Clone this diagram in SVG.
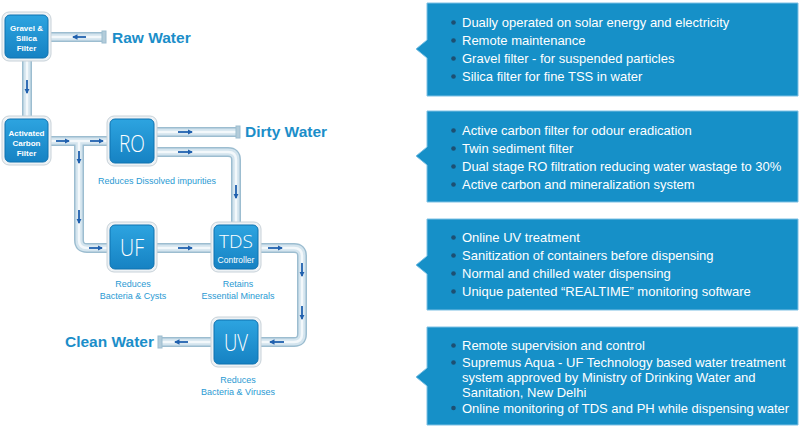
<svg xmlns="http://www.w3.org/2000/svg" width="800" height="447" viewBox="0 0 800 447">
<defs>
<style>
.pipeO{fill:none;stroke:#9cbdd0;stroke-width:10;stroke-linejoin:round}
.pipeM{fill:none;stroke:#d3e4ee;stroke-width:7;stroke-linejoin:round}
.pipeH{fill:none;stroke:#f3f8fb;stroke-width:2.5;stroke-linejoin:round}
.arr{fill:none;stroke:#2060ae;stroke-width:1.8;marker-end:url(#ah)}
.frame{fill:#eef2f5;stroke:#c8d2d9;stroke-width:1}
.box{fill:url(#bg);stroke:#0f72b0;stroke-width:1}
.bt{font-family:"Liberation Sans",Arial,sans-serif;font-weight:bold;font-size:8px;fill:#fff;text-anchor:middle}
.big{font-family:"Open Sans","Liberation Sans",sans-serif;font-weight:300;font-size:24px;fill:#fff;text-anchor:middle}
.lbl{font-family:"Liberation Sans",Arial,sans-serif;font-size:9px;fill:#2a9ad3;text-anchor:middle}
.ttl{font-family:"Liberation Sans",Arial,sans-serif;font-weight:bold;font-size:15.5px;fill:#1b8ec9}
.panel{fill:#1690c8;stroke:#7cc0e4;stroke-width:1}
.pt{font-family:"Liberation Sans",Arial,sans-serif;font-size:13px;fill:#fff}
.dot{fill:#1d4f72}
.cap{fill:#b3ccda;stroke:#9cbdd0;stroke-width:1}
</style>
<linearGradient id="bg" x1="0" y1="0" x2="0" y2="1">
<stop offset="0" stop-color="#2da4e0"/>
<stop offset="1" stop-color="#1682c3"/>
</linearGradient>
<marker id="ah" viewBox="0 0 6 6" refX="5" refY="3" markerWidth="3" markerHeight="3" orient="auto">
<path d="M0,0 L6,3 L0,6 z" fill="#2060ae"/>
</marker>
<path id="p1" d="M105,37 H50"/>
<path id="p2" d="M27,60 V117"/>
<path id="p3" d="M50,141 H107"/>
<path id="p4" d="M79,141 V240 Q79,248 87,248 H107"/>
<path id="p5" d="M157,248 H212"/>
<path id="p6" d="M157,132 H238"/>
<path id="p7" d="M157,152 H228 Q236,152 236,160 V223"/>
<path id="p8" d="M261,248 H294 Q302,248 302,256 V334 Q302,342 294,342 H261"/>
<path id="p9" d="M212,342 H160"/>
</defs>
<rect width="800" height="447" fill="#fff"/>

<g id="connectors">
<use href="#p1" class="pipeO"/><use href="#p2" class="pipeO"/><use href="#p3" class="pipeO"/><use href="#p4" class="pipeO"/><use href="#p5" class="pipeO"/><use href="#p6" class="pipeO"/><use href="#p7" class="pipeO"/><use href="#p8" class="pipeO"/><use href="#p9" class="pipeO"/>
<use href="#p1" class="pipeM"/><use href="#p2" class="pipeM"/><use href="#p3" class="pipeM"/><use href="#p4" class="pipeM"/><use href="#p5" class="pipeM"/><use href="#p6" class="pipeM"/><use href="#p7" class="pipeM"/><use href="#p8" class="pipeM"/><use href="#p9" class="pipeM"/>
<use href="#p1" class="pipeH"/><use href="#p2" class="pipeH"/><use href="#p3" class="pipeH"/><use href="#p4" class="pipeH"/><use href="#p5" class="pipeH"/><use href="#p6" class="pipeH"/><use href="#p7" class="pipeH"/><use href="#p8" class="pipeH"/><use href="#p9" class="pipeH"/>
<rect class="cap" x="102" y="31" width="4" height="12"/>
<rect class="cap" x="236" y="126" width="4" height="12"/>
<rect class="cap" x="158" y="336" width="4" height="12"/>
<path class="arr" d="M86,37 H73"/>
<path class="arr" d="M27,80 V93"/>
<path class="arr" d="M56,141 H69"/>
<path class="arr" d="M90,141 H103"/>
<path class="arr" d="M79,151 V163"/>
<path class="arr" d="M79,210 V223"/>
<path class="arr" d="M89,248 H102"/>
<path class="arr" d="M178,132 H192"/>
<path class="arr" d="M178,152 H192"/>
<path class="arr" d="M236,185 V198"/>
<path class="arr" d="M178,248 H192"/>
<path class="arr" d="M268,248 H282"/>
<path class="arr" d="M302,263 V276"/>
<path class="arr" d="M302,306 V319"/>
<path class="arr" d="M284,342 H270"/>
<path class="arr" d="M188,342 H175"/>
</g>

<g id="gravel">
<rect class="frame" x="2" y="12" width="49" height="49" rx="7"/>
<rect class="box" x="5" y="15" width="43" height="43" rx="5"/>
<text class="bt" x="26.5" y="31">Gravel &amp;</text>
<text class="bt" x="26.5" y="41">Silica</text>
<text class="bt" x="26.5" y="51">Filter</text>
</g>

<g id="carbon">
<rect class="frame" x="2" y="116" width="49" height="49" rx="7"/>
<rect class="box" x="5" y="119" width="43" height="43" rx="5"/>
<text class="bt" x="26.5" y="136">Activated</text>
<text class="bt" x="26.5" y="146">Carbon</text>
<text class="bt" x="26.5" y="156">Filter</text>
</g>

<g id="ro">
<rect class="frame" x="107" y="116" width="50" height="50" rx="7"/>
<rect class="box" x="110" y="119" width="44" height="44" rx="5"/>
<text class="big" x="132" y="152" textLength="26" lengthAdjust="spacingAndGlyphs">RO</text>
<text class="lbl" x="157" y="184">Reduces Dissolved impurities</text>
</g>

<g id="uf">
<rect class="frame" x="107" y="222" width="50" height="50" rx="7"/>
<rect class="box" x="110" y="225" width="44" height="44" rx="5"/>
<text class="big" x="132" y="256" textLength="24" lengthAdjust="spacingAndGlyphs">UF</text>
<text class="lbl" x="133" y="287">Reduces</text>
<text class="lbl" x="133" y="299">Bacteria &amp; Cysts</text>
</g>

<g id="tds">
<rect class="frame" x="211" y="222" width="50" height="50" rx="7"/>
<rect class="box" x="214" y="225" width="44" height="44" rx="5"/>
<text class="big" x="236" y="248" style="font-size:19px" textLength="34" lengthAdjust="spacingAndGlyphs">TDS</text>
<text class="lbl" x="236" y="263" style="fill:#fff;font-size:8.5px">Controller</text>
<text class="lbl" x="238" y="287">Retains</text>
<text class="lbl" x="238" y="299">Essential Minerals</text>
</g>

<g id="uv">
<rect class="frame" x="211" y="317" width="50" height="50" rx="7"/>
<rect class="box" x="214" y="320" width="44" height="44" rx="5"/>
<text class="big" x="236" y="351" textLength="24" lengthAdjust="spacingAndGlyphs">UV</text>
<text class="lbl" x="238" y="383">Reduces</text>
<text class="lbl" x="238" y="395">Bacteria &amp; Viruses</text>
</g>

<g id="raw"><text class="ttl" x="112" y="43">Raw Water</text></g>
<g id="dirty"><text class="ttl" x="245" y="137">Dirty Water</text></g>
<g id="clean"><text class="ttl" x="65" y="347">Clean Water</text></g>

<g id="panel1">
<path class="panel" d="M427,3 H798 V96 H427 V58 L416,49 L427,40 Z"/>
<circle class="dot" cx="453.5" cy="22.5" r="2.3"/><text class="pt" x="462" y="27">Dually operated on solar energy and electricity</text>
<circle class="dot" cx="453.5" cy="40.5" r="2.3"/><text class="pt" x="462" y="45">Remote maintenance</text>
<circle class="dot" cx="453.5" cy="58.5" r="2.3"/><text class="pt" x="462" y="63">Gravel filter - for suspended particles</text>
<circle class="dot" cx="453.5" cy="76.5" r="2.3"/><text class="pt" x="462" y="81">Silica filter for fine TSS in water</text>
</g>

<g id="panel2">
<path class="panel" d="M427,111 H798 V202 H427 V165 L416,156 L427,147 Z"/>
<circle class="dot" cx="453.5" cy="130.5" r="2.3"/><text class="pt" x="462" y="135">Active carbon filter for odour eradication</text>
<circle class="dot" cx="453.5" cy="148.5" r="2.3"/><text class="pt" x="462" y="153">Twin sediment filter</text>
<circle class="dot" cx="453.5" cy="166.5" r="2.3"/><text class="pt" x="462" y="171">Dual stage RO filtration reducing water wastage to 30%</text>
<circle class="dot" cx="453.5" cy="184.5" r="2.3"/><text class="pt" x="462" y="189">Active carbon and mineralization system</text>
</g>

<g id="panel3">
<path class="panel" d="M427,219 H798 V310 H427 V274 L416,265 L427,256 Z"/>
<circle class="dot" cx="453.5" cy="237.5" r="2.3"/><text class="pt" x="462" y="242">Online UV treatment</text>
<circle class="dot" cx="453.5" cy="255.5" r="2.3"/><text class="pt" x="462" y="260">Sanitization of containers before dispensing</text>
<circle class="dot" cx="453.5" cy="273.5" r="2.3"/><text class="pt" x="462" y="278">Normal and chilled water dispensing</text>
<circle class="dot" cx="453.5" cy="291.5" r="2.3"/><text class="pt" x="462" y="296">Unique patented “REALTIME” monitoring software</text>
</g>

<g id="panel4">
<path class="panel" d="M427,327 H798 V425 H427 V386 L416,377 L427,368 Z"/>
<circle class="dot" cx="453.5" cy="345.5" r="2.3"/><text class="pt" x="462" y="350">Remote supervision and control</text>
<circle class="dot" cx="453.5" cy="362.5" r="2.3"/><text class="pt" x="462" y="367">Supremus Aqua - UF Technology based water treatment</text>
<text class="pt" x="462" y="382">system approved by Ministry of Drinking Water and</text>
<text class="pt" x="462" y="397">Sanitation, New Delhi</text>
<circle class="dot" cx="453.5" cy="408" r="2.3"/><text class="pt" x="462" y="412.5">Online monitoring of TDS and PH while dispensing water</text>
</g>
</svg>
